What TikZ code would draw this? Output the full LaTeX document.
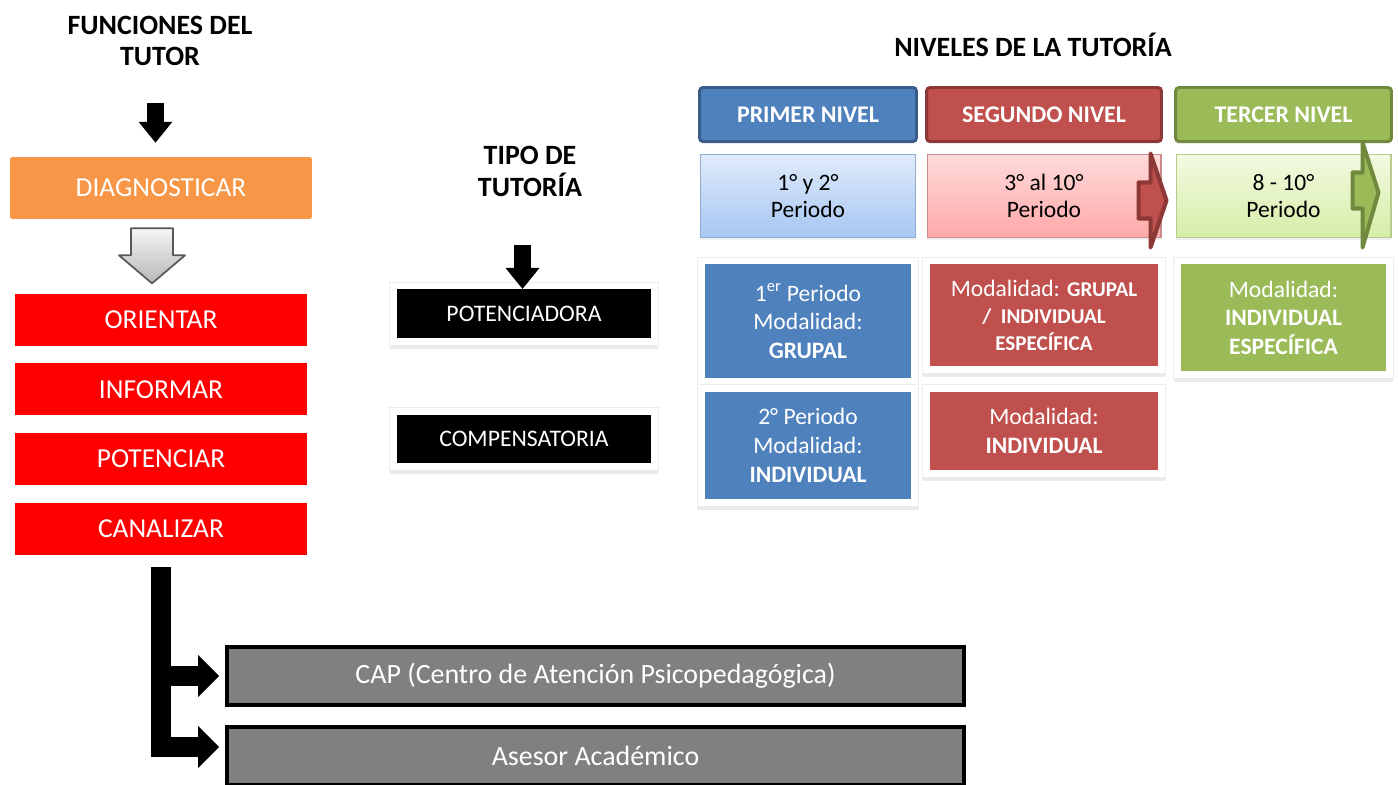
\documentclass[tikz,border=0pt]{standalone}
\usepackage{fontspec}
\setmainfont{Carlito}
\usepackage{tikz}
\usetikzlibrary{shapes, shadows, positioning, arrows.meta, calc, fit, backgrounds}
\definecolor{diagOrange}{HTML}{F79646}
\definecolor{funcRed}{HTML}{FF0000}
\definecolor{capGray}{HTML}{808080}
\definecolor{nivBlue}{HTML}{4F81BD}
\definecolor{nivBlueDark}{HTML}{385D8A}
\definecolor{nivRed}{HTML}{C0504D}
\definecolor{nivRedDark}{HTML}{8C3836}
\definecolor{nivGreen}{HTML}{9BBB59}
\definecolor{nivGreenDark}{HTML}{71893F}
\definecolor{perBlueTop}{HTML}{E0EBFB}
\definecolor{perBlueBot}{HTML}{A6C6F2}
\definecolor{perBlueLine}{HTML}{8EAAD0}
\definecolor{perRedTop}{HTML}{FFDADA}
\definecolor{perRedBot}{HTML}{FFA8A8}
\definecolor{perRedLine}{HTML}{C98A89}
\definecolor{perGreenTop}{HTML}{F3FAE1}
\definecolor{perGreenBot}{HTML}{D6EDA8}
\definecolor{perGreenLine}{HTML}{B7CC8E}
\newcommand{\titleFont}{\fontsize{15.9}{18.1}\selectfont\bfseries}
\newcommand{\boxFont}{\fontsize{15.6}{18}\selectfont}
\newcommand{\modFont}{\fontsize{13.4}{16.4}\selectfont}
\newcommand{\modBoldSmall}{\fontsize{12}{15.3}\selectfont\bfseries}
\newcommand{\boxGap}{0.34cm}
\tikzstyle{titleText}=[align=center, font=\titleFont, inner sep=0pt]
\tikzstyle{funcBox}=[fill=funcRed, text=white, font=\boxFont, minimum width=5.84cm, minimum height=1.04cm, inner sep=0pt]
\tikzstyle{diagBox}=[funcBox, fill=diagOrange, rounded corners=1pt, minimum width=6.04cm, minimum height=1.24cm]
\tikzstyle{capBox}=[draw=black, line width=2.3pt, fill=capGray, text=white, font=\fontsize{15.9}{18}\selectfont, minimum width=14.74cm, minimum height=1.16cm, inner sep=0pt]
\tikzstyle{nivel}=[line width=1.7pt, rounded corners=2pt, text=white, font=\fontsize{13.6}{16}\selectfont\bfseries, minimum height=1.08cm, inner sep=0pt, drop shadow={shadow xshift=0pt, shadow yshift=-1.5pt, opacity=.15}]
\tikzstyle{periodo}=[line width=0.6pt, align=center, font=\modFont\linespread{0.93}\selectfont, minimum height=1.66cm, inner sep=0pt, drop shadow={shadow xshift=0pt, shadow yshift=-1.5pt, opacity=.12}]
\tikzstyle{tipoBox}=[fill=black, text=white, font=\fontsize{13.5}{16}\selectfont, minimum width=5.08cm, minimum height=0.97cm, inner sep=0pt]
\tikzstyle{modBox}=[text=white, align=center, font=\modFont, inner sep=0pt]
\tikzstyle{card}=[fill=white, draw=black!8, inner sep=0.14cm, drop shadow={shadow xshift=0pt, shadow yshift=-2pt, opacity=.16}]
\tikzstyle{blockArrow}=[line width=9.6pt, -{Triangle[length=11.9pt, width=19.3pt, line width=0pt]}]
\tikzstyle{bigArrow}=[line width=11.3pt, -{Triangle[length=11.9pt, width=23.8pt, line width=0pt]}, shorten >=0.12cm]
\tikzstyle{hollowArrow}=[draw=black!65, line width=1pt, line join=round, top color=black!4, bottom color=black!28]
\tikzstyle{redPointer}=[draw=nivRedDark, fill=nivRed, line width=2.3pt, line join=round]
\tikzstyle{greenPointer}=[draw=nivGreenDark, fill=nivGreen, line width=2.3pt, line join=round]

\begin{document}
\begin{tikzpicture}[x=0.02cm, y=-0.02cm]
  \useasboundingbox (0,0) rectangle (1398,784);
  \node[titleText] (funcTitle) at (160,41) {FUNCIONES DEL\\TUTOR};
  \node[diagBox] (diag) at (161,188) {DIAGNOSTICAR};
  \node[funcBox, below=1.48cm of diag] (orient) {ORIENTAR};
  \node[funcBox, below=\boxGap of orient] (inform) {INFORMAR};
  \node[funcBox, below=\boxGap of inform] (poten) {POTENCIAR};
  \node[funcBox, below=\boxGap of poten] (canal) {CANALIZAR};
  \node[capBox] (cap) at (595.5,676) {CAP (Centro de Atención Psicopedagógica)};
  \node[capBox, below=0.36cm of cap] (asesor) {Asesor Académico};
  \coordinate (funcArrow) at ([shift={(-4.5,62)}]funcTitle.center);
  \draw[blockArrow, shorten >=0.28cm] (funcArrow) -- (funcArrow |- diag.north);
  \begin{scope}[shift={(diag.south)}]
    \draw[hollowArrow] (-30,9) -- (12,9) -- (12,36) -- (24,36) -- (-9,64) -- (-42,36) -- (-30,36) -- cycle;
  \end{scope}
  \draw[bigArrow] ([yshift=-0.24cm]canal.south) |- (cap.west);
  \draw[bigArrow] ([yshift=-0.24cm]canal.south) |- ([yshift=0.18cm]asesor.west);

  \node[titleText] (tipoTitle) at (530,171.5) {TIPO DE\\TUTORÍA};
  \node[tipoBox] (potTipo) at (524,313.5) {POTENCIADORA};
  \node[tipoBox] (compTipo) at (524,439) {COMPENSATORIA};
  \coordinate (tipoArrow) at ([shift={(-7.5,73.5)}]tipoTitle.center);
  \draw[blockArrow] (tipoArrow) -- (tipoArrow |- potTipo.north);

  \node[titleText] (nivTitle) at (1033,45) {NIVELES DE LA TUTORÍA};
  \node[nivel, fill=nivBlue, draw=nivBlueDark, minimum width=4.34cm] (nivA) at (808,114.5) {PRIMER NIVEL};
  \node[nivel, fill=nivRed, draw=nivRedDark, minimum width=4.70cm] (nivB) at (1044,114.5) {SEGUNDO NIVEL};
  \node[nivel, fill=nivGreen, draw=nivGreenDark, minimum width=4.32cm] (nivC) at (1283.5,114.5) {TERCER NIVEL};
  \node[periodo, top color=perBlueTop, bottom color=perBlueBot, draw=perBlueLine, minimum width=4.3cm, below=0.22cm of nivA] (perA) {1° y 2°\\Periodo};
  \node[periodo, top color=perRedTop, bottom color=perRedBot, draw=perRedLine, minimum width=4.68cm, below=0.22cm of nivB] (perB) {3° al 10°\\Periodo};
  \node[periodo, top color=perGreenTop, bottom color=perGreenBot, draw=perGreenLine, minimum width=4.3cm, below=0.22cm of nivC] (perC) {8 - 10°\\Periodo};
  \node[modBox, fill=nivBlue, minimum width=4.14cm, minimum height=2.28cm, below=0.52cm of perA] (modA1) {1\textsuperscript{er} Periodo\\Modalidad:\\\textbf{GRUPAL}};
  \node[modBox, fill=nivBlue, minimum width=4.14cm, minimum height=2.14cm, below=0.26cm of modA1] (modA2) {2° Periodo\\Modalidad:\\\textbf{INDIVIDUAL}};
  \node[modBox, fill=nivRed, minimum width=4.58cm, minimum height=2.04cm, below=0.52cm of perB, font=\fontsize{13.4}{15.3}\selectfont] (modB1) {Modalidad: {\modBoldSmall GRUPAL}\\{\modBoldSmall /\ \ INDIVIDUAL}\\{\modBoldSmall ESPECÍFICA}};
  \node[modBox, fill=nivRed, minimum width=4.58cm, minimum height=1.56cm, below=0.5cm of modB1] (modB2) {Modalidad:\\\textbf{INDIVIDUAL}};
  \node[modBox, fill=nivGreen, minimum width=4.10cm, minimum height=2.14cm, below=0.52cm of perC] (modC) {Modalidad:\\\textbf{INDIVIDUAL}\\\textbf{ESPECÍFICA}};
  \begin{scope}[on background layer]
    \foreach \n in {potTipo, compTipo, modA1, modA2, modB1, modB2, modC}
      \node[card, fit=(\n)] {};
  \end{scope}
  \begin{scope}[shift={(perB.east)}]
    \draw[redPointer] (-23,-13.5) -- (-11,-13.5) -- (-11,-42.5) -- (5,4.5) -- (-11,51.5) -- (-11,22.5) -- (-23,22.5) -- cycle;
  \end{scope}
  \begin{scope}[shift={(perC.east)}]
    \draw[greenPointer] (-39,-23.5) -- (-29,-23.5) -- (-29,-53.5) -- (-13,-3.5) -- (-29,51.5) -- (-29,12.5) -- (-39,12.5) -- cycle;
  \end{scope}
\end{tikzpicture}
\end{document}
